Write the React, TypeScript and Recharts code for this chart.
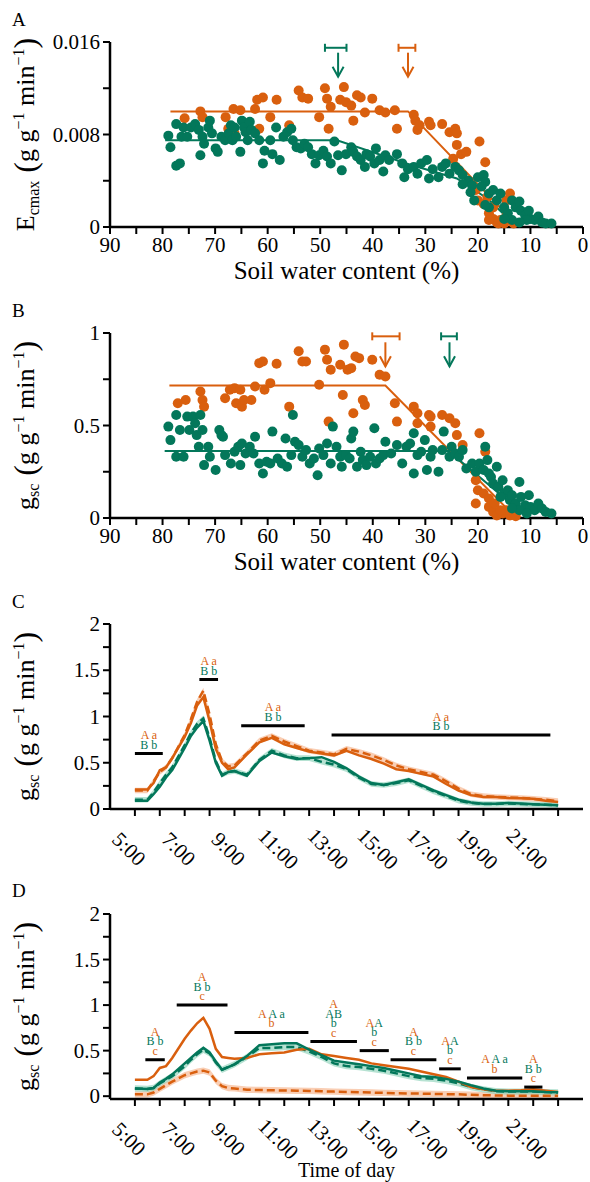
import React from "react";
import {
  Area,
  ComposedChart,
  Line,
  ReferenceDot,
  ReferenceLine,
  Scatter,
  XAxis,
  YAxis,
} from "recharts";

const ORANGE = "#d95f0e";
const GREEN = "#03775a";
const ORANGE_BAND = "#f6b48c";
const GREEN_BAND = "#8fd2ba";
const FONT = '"Liberation Serif", "Times New Roman", Tinos, "DejaVu Serif", serif';
const TXT = { fontFamily: FONT };

type Pt = [number, number];

// ---- panel A: Ecmax vs soil water content ----
const A_ORANGE: Pt[] = [
  [75.8, 0.0094], [72.8, 0.01], [72.4, 0.0095], [68.0, 0.0095], [66.5, 0.0102], [65.2, 0.0101],
  [67.5, 0.0085], [66.3, 0.0081], [62.4, 0.0102], [62.0, 0.011], [60.9, 0.0112], [61.6, 0.0085],
  [59.5, 0.0095], [58.3, 0.011], [55.9, 0.0088], [54.1, 0.0118], [53.4, 0.0112], [52.3, 0.0111],
  [50.2, 0.0095], [49.1, 0.012], [48.4, 0.0085], [48.7, 0.0111], [48.0, 0.0104], [46.2, 0.011],
  [45.5, 0.0121], [45.1, 0.0108], [44.1, 0.0105], [43.7, 0.0092], [43.0, 0.0114], [42.3, 0.0112],
  [41.5, 0.0099], [40.1, 0.0111], [38.7, 0.0101], [37.6, 0.0099], [35.8, 0.0101], [35.4, 0.0085],
  [32.2, 0.0097], [31.9, 0.0092], [31.5, 0.0084], [31.1, 0.0088], [29.3, 0.0091], [29.0, 0.0088],
  [26.8, 0.0089], [25.4, 0.0082], [24.3, 0.0085], [24.0, 0.0081], [24.0, 0.0071], [24.7, 0.0059],
  [23.2, 0.0063], [22.2, 0.0065], [19.7, 0.0074], [18.6, 0.0056], [20.4, 0.0032], [20.0, 0.0023],
  [18.9, 0.002], [17.9, 0.0012], [17.1, 0.0007], [16.4, 0.0004], [15.7, 0.0006], [14.6, 0.0009],
  [13.9, 0.0029], [14.6, 0.0023], [18.2, 0.0026], [17.1, 0.0017], [17.9, 0.0006], [16.1, 0.0003],
  [15.0, 0.0003], [13.2, 0.0003],
];

const A_GREEN: Pt[] = [
  [78.9, 0.0079], [78.5, 0.0069], [77.4, 0.0053], [76.7, 0.0055], [76.4, 0.0078], [77.4, 0.0089],
  [76.0, 0.0086], [75.3, 0.0078], [74.6, 0.0086], [73.8, 0.0089], [73.1, 0.0084], [72.8, 0.0062],
  [72.4, 0.0078], [72.1, 0.0072], [71.3, 0.0086], [71.0, 0.0092], [70.6, 0.0081], [69.9, 0.0068],
  [69.5, 0.0065], [68.8, 0.0078], [68.1, 0.0075], [67.4, 0.0081], [67.0, 0.0088], [66.7, 0.0075],
  [66.3, 0.0086], [66.0, 0.0078], [65.2, 0.0065], [64.9, 0.0092], [64.5, 0.0086], [64.2, 0.0082],
  [63.8, 0.0075], [63.4, 0.0091], [63.1, 0.0084], [62.4, 0.0081], [61.6, 0.0075], [60.9, 0.0055],
  [60.6, 0.0066], [59.5, 0.0075], [59.1, 0.0063], [58.4, 0.0086], [57.7, 0.0058], [57.0, 0.0078],
  [56.3, 0.0082], [55.5, 0.0085], [55.2, 0.0075], [54.5, 0.0069], [53.7, 0.0068], [53.0, 0.0072],
  [52.3, 0.0069], [51.6, 0.0063], [50.9, 0.0055], [50.2, 0.0062], [49.4, 0.0066], [48.7, 0.0061],
  [48.0, 0.0055], [47.3, 0.0074], [46.6, 0.0062], [45.9, 0.0049], [45.1, 0.0063], [44.1, 0.0069],
  [43.7, 0.0065], [43.0, 0.0061], [42.3, 0.0058], [41.5, 0.0052], [41.2, 0.0063], [40.5, 0.0061],
  [39.7, 0.0055], [39.4, 0.0068], [38.7, 0.0058], [38.0, 0.0048], [37.6, 0.0062], [36.9, 0.0058],
  [35.4, 0.0063], [34.4, 0.0055], [34.0, 0.0043], [33.3, 0.005], [32.2, 0.0052], [31.5, 0.0046],
  [30.8, 0.0055], [29.7, 0.0058], [29.3, 0.0042], [28.6, 0.005], [27.5, 0.0043], [26.8, 0.0052],
  [26.1, 0.0055], [25.4, 0.0046], [24.3, 0.0052], [23.6, 0.0049], [22.9, 0.0045], [21.8, 0.004],
  [21.1, 0.0036], [20.0, 0.0043], [18.9, 0.0045], [18.6, 0.0039], [19.3, 0.0035], [17.9, 0.0029],
  [17.1, 0.0032], [16.4, 0.0023], [15.7, 0.0029], [15.0, 0.0017], [14.3, 0.0012], [13.5, 0.0023],
  [12.8, 0.0017], [12.1, 0.0022], [11.8, 0.0014], [11.0, 0.001], [10.3, 0.0014], [10.0, 0.0007],
  [9.2, 0.0006], [8.5, 0.0009], [7.8, 0.0004], [7.1, 0.0003], [6.0, 0.0003], [10.7, 0.0006],
  [12.1, 0.0004], [13.5, 0.0006], [17.9, 0.0017], [21.4, 0.003], [22.9, 0.0037], [20.7, 0.0023],
  [18.6, 0.0019], [15.0, 0.0007],
];

const A_FIT_ORANGE: Pt[] = [[78.5, 0.01], [33.3, 0.01], [12.2, 0]];
const A_FIT_GREEN: Pt[] = [[79.5, 0.0075], [46.8, 0.0075], [33, 0.0054], [24, 0.0042], [18, 0.0024], [12.6, 0]];
const A_Y_TICKS = [0, 0.004, 0.008, 0.012, 0.016];
const A_Y_LABELS = ["0", "", "0.008", "", "0.016"];

// ---- panel B: gsc vs soil water content ----
const B_ORANGE: Pt[] = [
  [77.1, 0.62], [75.6, 0.638], [72.8, 0.684], [72.4, 0.638], [72.1, 0.602], [68.1, 0.647],
  [67.2, 0.693], [66.3, 0.702], [66.0, 0.62], [65.2, 0.693], [64.9, 0.602], [64.5, 0.638],
  [63.1, 0.638], [62.4, 0.711], [61.6, 0.837], [60.9, 0.846], [60.6, 0.693], [59.5, 0.729],
  [58.3, 0.834], [55.9, 0.602], [54.1, 0.901], [53.4, 0.846], [52.7, 0.846], [50.2, 0.72],
  [49.1, 0.91], [48.7, 0.855], [48.0, 0.801], [48.4, 0.521], [46.2, 0.828], [45.7, 0.665],
  [45.5, 0.937], [44.8, 0.801], [44.1, 0.81], [43.7, 0.566], [43.3, 0.873], [42.6, 0.864],
  [41.9, 0.638], [41.5, 0.611], [40.1, 0.855], [38.7, 0.774], [37.6, 0.765], [35.8, 0.62],
  [35.4, 0.521], [32.2, 0.602], [31.5, 0.566], [31.5, 0.512], [29.3, 0.557], [29.0, 0.548],
  [29.0, 0.494], [26.8, 0.557], [25.4, 0.539], [24.3, 0.512], [24.0, 0.448], [22.9, 0.394],
  [19.7, 0.458], [18.6, 0.358], [20.4, 0.204], [20.4, 0.078], [20.0, 0.15], [18.9, 0.132],
  [17.9, 0.06], [17.1, 0.033], [16.4, 0.014], [15.3, 0.024], [14.6, 0.042], [17.9, 0.105],
  [16.8, 0.078], [15.7, 0.042], [13.9, 0.014], [12.8, 0.009],
];

const B_GREEN: Pt[] = [
  [78.9, 0.494], [78.5, 0.421], [77.4, 0.331], [77.4, 0.557], [76.7, 0.476], [76.0, 0.331],
  [75.3, 0.548], [74.9, 0.476], [74.2, 0.548], [73.8, 0.512], [73.5, 0.448], [73.1, 0.385],
  [72.8, 0.557], [72.4, 0.476], [72.1, 0.286], [71.3, 0.385], [71.0, 0.331], [69.9, 0.259],
  [69.2, 0.476], [68.8, 0.448], [68.5, 0.439], [68.1, 0.34], [67.0, 0.295], [66.3, 0.358],
  [65.6, 0.385], [65.2, 0.286], [64.9, 0.403], [64.2, 0.349], [63.4, 0.385], [62.7, 0.349],
  [62.4, 0.439], [61.6, 0.295], [60.9, 0.241], [60.2, 0.304], [59.5, 0.295], [59.1, 0.467],
  [58.1, 0.322], [57.3, 0.295], [56.6, 0.43], [56.3, 0.277], [55.5, 0.34], [55.2, 0.557],
  [54.8, 0.412], [54.1, 0.394], [53.4, 0.331], [52.7, 0.367], [52.0, 0.295], [51.2, 0.322],
  [50.5, 0.231], [50.2, 0.376], [49.4, 0.34], [48.7, 0.403], [48.0, 0.295], [47.6, 0.494],
  [46.9, 0.385], [46.2, 0.331], [45.9, 0.277], [45.1, 0.34], [44.4, 0.322], [44.1, 0.43],
  [43.7, 0.467], [43.0, 0.277], [42.3, 0.358], [41.9, 0.313], [41.2, 0.286], [40.5, 0.331],
  [39.7, 0.485], [39.4, 0.295], [38.7, 0.322], [38.0, 0.34], [37.6, 0.412], [36.5, 0.349],
  [35.4, 0.394], [34.4, 0.295], [33.6, 0.385], [32.9, 0.403], [32.2, 0.458], [32.2, 0.241],
  [31.5, 0.34], [30.8, 0.358], [30.1, 0.421], [29.7, 0.259], [29.0, 0.331], [28.6, 0.367],
  [27.5, 0.25], [26.8, 0.367], [26.5, 0.467], [25.4, 0.331], [25.0, 0.385], [24.3, 0.349],
  [23.6, 0.331], [22.9, 0.367], [22.2, 0.268], [21.1, 0.295], [20.4, 0.25], [19.7, 0.295],
  [18.6, 0.385], [18.2, 0.313], [18.9, 0.259], [17.9, 0.241], [17.5, 0.222], [17.1, 0.186],
  [16.4, 0.277], [16.1, 0.168], [15.3, 0.204], [15.0, 0.132], [14.3, 0.15], [13.9, 0.096],
  [13.5, 0.123], [12.8, 0.078], [12.1, 0.195], [11.8, 0.114], [11.0, 0.069], [10.3, 0.123],
  [10.0, 0.06], [9.2, 0.042], [8.5, 0.078], [7.8, 0.051], [7.1, 0.033], [6.0, 0.024],
  [12.1, 0.042], [10.7, 0.024], [15.7, 0.114], [13.5, 0.051],
];

const B_FIT_ORANGE: Pt[] = [[78.7, 0.716], [37.6, 0.716], [12.7, 0]];
const B_FIT_GREEN: Pt[] = [[79.6, 0.362], [25.6, 0.362], [10.4, 0]];
const B_Y_TICKS = [0, 0.25, 0.5, 0.75, 1];
const B_Y_LABELS = ["0", "", "0.5", "", "1"];

// breakpoint estimates with their error bars
const A_BREAKS = [
  { color: GREEN, lo: 49.1, hi: 45.0, x: 46.6, bar: 0.0155, tip: 0.013 },
  { color: ORANGE, lo: 35.1, hi: 31.9, x: 33.3, bar: 0.0155, tip: 0.013 },
];
const B_BREAKS = [
  { color: ORANGE, lo: 40.1, hi: 34.9, x: 37.6, bar: 0.982, tip: 0.82 },
  { color: GREEN, lo: 27.0, hi: 24.0, x: 25.4, bar: 0.982, tip: 0.82 },
];

const SWC_TICKS = [0, 5, 10, 15, 20, 25, 30, 35, 40, 45, 50, 55, 60, 65, 70, 75, 80, 85, 90];

// ---- panels C and D: diurnal gsc ----
const TIME = [
  5, 5.5, 5.75, 6, 6.25, 6.5, 7, 7.25, 7.5, 7.75, 8, 8.25, 8.5, 8.75, 9, 9.5, 10, 10.5, 11, 11.5,
  12, 12.5, 13, 13.5, 14, 14.5, 15, 15.5, 16, 16.5, 17, 17.5, 18, 18.5, 19, 19.5, 20, 20.5, 21,
  21.5, 22,
];

const C_ORANGE_SOLID = [
  0.21, 0.21, 0.28, 0.42, 0.45, 0.55, 0.78, 0.93, 1.12, 1.21, 0.95, 0.65, 0.5, 0.43, 0.45, 0.59,
  0.72, 0.77, 0.7, 0.66, 0.62, 0.6, 0.58, 0.63, 0.58, 0.54, 0.49, 0.43, 0.41, 0.38, 0.35, 0.27,
  0.2, 0.15, 0.13, 0.13, 0.12, 0.115, 0.11, 0.09, 0.075,
];
const C_ORANGE_DASH = [
  0.2, 0.2, 0.3, 0.4, 0.45, 0.55, 0.8, 0.97, 1.16, 1.28, 1.02, 0.7, 0.52, 0.46, 0.47, 0.6, 0.74,
  0.79, 0.73, 0.68, 0.63, 0.61, 0.59, 0.65, 0.62, 0.58, 0.53, 0.47, 0.43, 0.4, 0.37, 0.3, 0.22,
  0.16, 0.14, 0.13, 0.125, 0.12, 0.11, 0.1, 0.085,
];
const C_GREEN_SOLID = [
  0.09, 0.09, 0.16, 0.24, 0.34, 0.42, 0.66, 0.79, 0.88, 0.95, 0.74, 0.5, 0.36, 0.4, 0.41, 0.36,
  0.52, 0.61, 0.57, 0.54, 0.55, 0.56, 0.51, 0.44, 0.35, 0.28, 0.26, 0.29, 0.32, 0.26, 0.2, 0.15,
  0.1, 0.07, 0.058, 0.058, 0.065, 0.06, 0.052, 0.045, 0.04,
];
const C_GREEN_DASH = [
  0.1, 0.1, 0.18, 0.28, 0.37, 0.45, 0.69, 0.82, 0.92, 0.98, 0.77, 0.52, 0.37, 0.4, 0.41, 0.37,
  0.53, 0.63, 0.58, 0.55, 0.55, 0.51, 0.48, 0.43, 0.34, 0.27, 0.26, 0.28, 0.31, 0.25, 0.19, 0.14,
  0.09, 0.065, 0.055, 0.055, 0.06, 0.055, 0.05, 0.045, 0.04,
];

const D_ORANGE_SOLID = [
  0.18, 0.18, 0.22, 0.31, 0.33, 0.42, 0.63, 0.72, 0.8, 0.86, 0.74, 0.52, 0.43, 0.42, 0.41, 0.42,
  0.46, 0.47, 0.48, 0.51, 0.52, 0.46, 0.44, 0.42, 0.4, 0.36, 0.34, 0.32, 0.3, 0.27, 0.24, 0.21,
  0.16, 0.1, 0.075, 0.06, 0.06, 0.065, 0.075, 0.06, 0.045,
];
const D_ORANGE_DASH = [
  0.02, 0.02, 0.04, 0.08, 0.12, 0.16, 0.23, 0.25, 0.27, 0.28, 0.26, 0.17, 0.11, 0.09, 0.085, 0.07,
  0.068, 0.065, 0.062, 0.06, 0.058, 0.054, 0.05, 0.046, 0.043, 0.04, 0.036, 0.033, 0.03, 0.028,
  0.025, 0.022, 0.02, 0.015, 0.01, 0.008, 0.006, 0.005, 0.005, 0.004, 0.004,
];
const D_GREEN_SOLID = [
  0.085, 0.08, 0.09, 0.15, 0.19, 0.24, 0.36, 0.42, 0.48, 0.53, 0.48, 0.38, 0.29, 0.32, 0.35, 0.44,
  0.56, 0.57, 0.58, 0.58, 0.51, 0.45, 0.39, 0.37, 0.35, 0.33, 0.31, 0.28, 0.25, 0.22, 0.21, 0.19,
  0.16, 0.12, 0.085, 0.06, 0.055, 0.055, 0.055, 0.045, 0.043,
];
const D_GREEN_DASH = [
  0.085, 0.08, 0.09, 0.14, 0.18, 0.22, 0.33, 0.4, 0.46, 0.51, 0.47, 0.37, 0.29, 0.32, 0.35, 0.43,
  0.53, 0.53, 0.54, 0.54, 0.49, 0.43, 0.36, 0.33, 0.32, 0.3, 0.28, 0.25, 0.22, 0.2, 0.19, 0.17,
  0.14, 0.1, 0.075, 0.055, 0.05, 0.05, 0.05, 0.045, 0.04,
];

const C_BAND = 0.03;
const D_BAND = 0.035;
const TIME_TICKS = [5, 6, 7, 8, 9, 10, 11, 12, 13, 14, 15, 16, 17, 18, 19, 20, 21, 22];
const G_TICKS = [0, 0.25, 0.5, 0.75, 1, 1.25, 1.5, 1.75, 2];
const G_LABELS = ["0", "", "0.5", "", "1", "", "1.5", "", "2"];

// significance letters: rows top to bottom, each row is [text, colour] pieces
type Piece = [string, "o" | "g"];
type Mark = { from: number; to: number; y: number; rows: Piece[][] };

const C_MARKS: Mark[] = [
  { from: 5.0, to: 6.12, y: 0.6, rows: [[["A a", "o"]], [["B b", "g"]]] },
  { from: 7.59, to: 8.34, y: 1.4, rows: [[["A a", "o"]], [["B b", "g"]]] },
  { from: 9.27, to: 11.82, y: 0.9, rows: [[["A a", "o"]], [["B b", "g"]]] },
  { from: 12.9, to: 21.69, y: 0.8, rows: [[["A a", "o"]], [["B b", "g"]]] },
];

const D_MARKS: Mark[] = [
  { from: 5.42, to: 6.2, y: 0.4, rows: [[["A", "o"]], [["B b", "g"]], [["c", "o"]]] },
  { from: 6.68, to: 8.72, y: 1.0, rows: [[["A", "o"]], [["B b", "g"]], [["c", "o"]]] },
  { from: 9.0, to: 11.97, y: 0.7, rows: [[["A ", "o"], ["A a", "g"]], [["b", "o"]]] },
  { from: 12.05, to: 13.92, y: 0.6, rows: [[["A", "o"]], [["AB", "g"]], [["b", "g"]], [["c", "o"]]] },
  { from: 14.03, to: 15.2, y: 0.5, rows: [[["A", "o"], ["A", "g"]], [["b", "g"]], [["c", "o"]]] },
  { from: 15.27, to: 17.11, y: 0.4, rows: [[["A", "o"]], [["B b", "g"]], [["c", "o"]]] },
  { from: 17.22, to: 18.09, y: 0.3, rows: [[["A", "o"], ["A", "g"]], [["b", "g"]], [["c", "o"]]] },
  { from: 18.34, to: 20.56, y: 0.2, rows: [[["A ", "o"], ["A a", "g"]], [["b", "o"]]] },
  { from: 20.64, to: 21.37, y: 0.1, rows: [[["A", "o"]], [["B b", "g"]], [["c", "o"]]] },
];

const AXIS_LINE = { stroke: "#000", strokeWidth: 2.5 };
const TICK_LINE = { stroke: "#000", strokeWidth: 2 };

const toXY = (pts: Pt[]) => pts.map(([x, y]) => ({ x, y }));

function yTitle(main: string, sub: string, letter: string, letterY: number) {
  return (props: any) => {
    const vb = props.viewBox;
    const cy = vb.y + vb.height / 2;
    const bx = 34;
    return (
      <g>
        <text x={12} y={letterY} fontSize={19} style={TXT} fill="#000">
          {letter}
        </text>
        <text
          transform={`rotate(-90 ${bx} ${cy})`}
          x={bx}
          y={cy}
          textAnchor="middle"
          style={TXT}
          fontSize={26}
          fill="#000"
        >
          <tspan>{main}</tspan>
          <tspan fontSize={16} dy={5}>{sub}</tspan>
          <tspan fontSize={32} dy={-3}> (</tspan>
          <tspan dy={-2}>g g</tspan>
          <tspan fontSize={16} dy={-10}>−1</tspan>
          <tspan dy={10}> min</tspan>
          <tspan fontSize={16} dy={-10}>−1</tspan>
          <tspan fontSize={32} dy={12}>)</tspan>
        </text>
      </g>
    );
  };
}

function xTitle(text: string, offset: number, size: number) {
  return (props: any) => {
    const vb = props.viewBox;
    return (
      <text
        x={vb.x + vb.width / 2}
        y={vb.y + offset}
        textAnchor="middle"
        style={TXT}
        fontSize={size}
        fill="#000"
      >
        {text}
      </text>
    );
  };
}

const yTick = (labels: string[]) => (p: any) => {
  const label = labels[p.index];
  if (!label) return <g />;
  return (
    <text x={p.x - 1} y={p.y} textAnchor="end" dominantBaseline="central" fontSize={21} style={TXT} fill="#000">
      {label}
    </text>
  );
};

const SwcTick = (p: any) => {
  const v = p.payload.value;
  if (v % 10 !== 0) return <g />;
  return (
    <text x={p.x} y={p.y + 9} textAnchor="middle" dominantBaseline="central" fontSize={21} style={TXT} fill="#000">
      {v}
    </text>
  );
};

const TimeTick = (p: any) => {
  const v = p.payload.value;
  if (v % 2 === 0) return <g />;
  const cx = p.x - 6;
  const cy = p.y + 31;
  return (
    <text
      transform={`rotate(45 ${cx} ${cy})`}
      x={cx}
      y={cy}
      textAnchor="middle"
      dominantBaseline="central"
      fontSize={21}
      style={TXT}
      fill="#000"
    >
      {`${v}:00`}
    </text>
  );
};

const dot = (color: string) => (p: any) => <circle cx={p.cx} cy={p.cy} r={5} fill={color} />;

const cap = (color: string) => (p: any) => (
  <line x1={p.cx} x2={p.cx} y1={p.cy - 4} y2={p.cy + 4} stroke={color} strokeWidth={2} />
);

const arrow = (color: string) => (p: any) => (
  <g stroke={color} strokeWidth={2} fill="none">
    <line x1={p.cx} x2={p.cx} y1={p.cy - 24} y2={p.cy} />
    <polyline points={`${p.cx - 5.5},${p.cy - 10} ${p.cx},${p.cy} ${p.cx + 5.5},${p.cy - 10}`} />
  </g>
);

const letters = (rows: Piece[][]) => (p: any) => (
  <g>
    {rows.map((row, i) => (
      <text
        key={i}
        x={p.cx}
        y={p.cy - 5 - (rows.length - 1 - i) * 9.5}
        textAnchor="middle"
        fontSize={12}
        style={TXT}
      >
        {row.map(([t, c], j) => (
          <tspan key={j} fill={c === "o" ? ORANGE : GREEN}>
            {t}
          </tspan>
        ))}
      </text>
    ))}
  </g>
);

type ScatterProps = {
  top: number;
  height: number;
  plotTop: number;
  axisHeight: number;
  letter: string;
  letterY: number;
  main: string;
  sub: string;
  yMax: number;
  yTicks: number[];
  yLabels: string[];
  orange: Pt[];
  green: Pt[];
  fitOrange: Pt[];
  fitGreen: Pt[];
  breaks: typeof A_BREAKS;
};

function SwcPanel(props: ScatterProps) {
  return (
    <div style={{ position: "absolute", left: 0, top: props.top }}>
      <ComposedChart
        width={590}
        height={props.height}
        margin={{ top: props.plotTop, right: 7, bottom: 0, left: 0 }}
      >
        <XAxis
          type="number"
          dataKey="x"
          domain={[0, 90]}
          reversed
          ticks={SWC_TICKS}
          interval={0}
          height={props.axisHeight}
          axisLine={AXIS_LINE}
          tickLine={TICK_LINE}
          tickSize={7}
          tick={SwcTick}
          label={xTitle("Soil water content (%)", 52, 25)}
        />
        <YAxis
          type="number"
          dataKey="y"
          domain={[0, props.yMax]}
          ticks={props.yTicks}
          interval={0}
          width={110}
          axisLine={AXIS_LINE}
          tickLine={TICK_LINE}
          tickSize={7}
          tick={yTick(props.yLabels)}
          label={yTitle(props.main, props.sub, props.letter, props.letterY)}
        />
        <Scatter data={toXY(props.orange)} shape={dot(ORANGE)} isAnimationActive={false} />
        <Scatter data={toXY(props.green)} shape={dot(GREEN)} isAnimationActive={false} />
        <Line
          data={toXY(props.fitOrange)}
          dataKey="y"
          stroke={ORANGE}
          strokeWidth={2}
          dot={false}
          isAnimationActive={false}
        />
        <Line
          data={toXY(props.fitGreen)}
          dataKey="y"
          stroke={GREEN}
          strokeWidth={2}
          dot={false}
          isAnimationActive={false}
        />
        {props.breaks.map((b, i) => (
          <ReferenceLine
            key={`bar${i}`}
            segment={[{ x: b.lo, y: b.bar }, { x: b.hi, y: b.bar }]}
            stroke={b.color}
            strokeWidth={2}
          />
        ))}
        {props.breaks.map((b, i) => (
          <ReferenceDot key={`lo${i}`} x={b.lo} y={b.bar} r={1} shape={cap(b.color)} />
        ))}
        {props.breaks.map((b, i) => (
          <ReferenceDot key={`hi${i}`} x={b.hi} y={b.bar} r={1} shape={cap(b.color)} />
        ))}
        {props.breaks.map((b, i) => (
          <ReferenceDot key={`ar${i}`} x={b.x} y={b.tip} r={1} shape={arrow(b.color)} />
        ))}
      </ComposedChart>
    </div>
  );
}

type TimeProps = {
  top: number;
  height: number;
  plotTop: number;
  axisHeight: number;
  letter: string;
  letterY: number;
  orangeSolid: number[];
  orangeDash: number[];
  greenSolid: number[];
  greenDash: number[];
  band: number;
  marks: Mark[];
  title?: string;
};

function TimePanel(props: TimeProps) {
  const rows = TIME.map((t, i) => ({
    t,
    os: props.orangeSolid[i],
    od: props.orangeDash[i],
    gs: props.greenSolid[i],
    gd: props.greenDash[i],
  }));
  const band = props.band;
  return (
    <div style={{ position: "absolute", left: 0, top: props.top }}>
      <ComposedChart
        width={590}
        height={props.height}
        data={rows}
        margin={{ top: props.plotTop, right: 7, bottom: 0, left: 0 }}
      >
        <XAxis
          type="number"
          dataKey="t"
          domain={[4, 23]}
          ticks={TIME_TICKS}
          interval={0}
          height={props.axisHeight}
          axisLine={AXIS_LINE}
          tickLine={TICK_LINE}
          tickSize={7}
          tick={TimeTick}
          label={props.title ? xTitle(props.title, 78, 20) : undefined}
        />
        <YAxis
          type="number"
          domain={[0, 2]}
          ticks={G_TICKS}
          interval={0}
          width={110}
          axisLine={AXIS_LINE}
          tickLine={TICK_LINE}
          tickSize={7}
          tick={yTick(G_LABELS)}
          label={yTitle("g", "sc", props.letter, props.letterY)}
        />
        <Area
          type="linear"
          dataKey={(r: any) => [r.od - band, r.od + band]}
          stroke="none"
          fill={ORANGE_BAND}
          fillOpacity={0.65}
          isAnimationActive={false}
        />
        <Area
          type="linear"
          dataKey={(r: any) => [r.gd - band, r.gd + band]}
          stroke="none"
          fill={GREEN_BAND}
          fillOpacity={0.65}
          isAnimationActive={false}
        />
        <Line type="linear" dataKey="od" stroke={ORANGE} strokeWidth={2.5} strokeDasharray="8 4" dot={false} isAnimationActive={false} />
        <Line type="linear" dataKey="gd" stroke={GREEN} strokeWidth={2.5} strokeDasharray="8 4" dot={false} isAnimationActive={false} />
        <Line type="linear" dataKey="os" stroke={ORANGE} strokeWidth={2.5} dot={false} isAnimationActive={false} />
        <Line type="linear" dataKey="gs" stroke={GREEN} strokeWidth={2.5} dot={false} isAnimationActive={false} />
        {props.marks.map((m, i) => (
          <ReferenceLine
            key={`m${i}`}
            segment={[{ x: m.from, y: m.y }, { x: m.to, y: m.y }]}
            stroke="#000"
            strokeWidth={3}
          />
        ))}
        {props.marks.map((m, i) => (
          <ReferenceDot key={`l${i}`} x={(m.from + m.to) / 2} y={m.y} r={1} shape={letters(m.rows)} />
        ))}
      </ComposedChart>
    </div>
  );
}

export default function App() {
  return (
    <div style={{ position: "absolute", left: 0, top: 0, width: 590, height: 1182, background: "#fff", fontFamily: FONT }}>
      <SwcPanel
        top={0}
        height={290}
        plotTop={42}
        axisHeight={63}
        letter="A"
        letterY={26}
        main="E"
        sub="cmax"
        yMax={0.016}
        yTicks={A_Y_TICKS}
        yLabels={A_Y_LABELS}
        orange={A_ORANGE}
        green={A_GREEN}
        fitOrange={A_FIT_ORANGE}
        fitGreen={A_FIT_GREEN}
        breaks={A_BREAKS}
      />
      <SwcPanel
        top={290}
        height={290}
        plotTop={43}
        axisHeight={62}
        letter="B"
        letterY={27}
        main="g"
        sub="sc"
        yMax={1}
        yTicks={B_Y_TICKS}
        yLabels={B_Y_LABELS}
        orange={B_ORANGE}
        green={B_GREEN}
        fitOrange={B_FIT_ORANGE}
        fitGreen={B_FIT_GREEN}
        breaks={B_BREAKS}
      />
      <TimePanel
        top={580}
        height={300}
        plotTop={44}
        axisHeight={71}
        letter="C"
        letterY={28}
        orangeSolid={C_ORANGE_SOLID}
        orangeDash={C_ORANGE_DASH}
        greenSolid={C_GREEN_SOLID}
        greenDash={C_GREEN_DASH}
        band={C_BAND}
        marks={C_MARKS}
      />
      <TimePanel
        top={880}
        height={302}
        plotTop={34}
        axisHeight={83}
        letter="D"
        letterY={17}
        orangeSolid={D_ORANGE_SOLID}
        orangeDash={D_ORANGE_DASH}
        greenSolid={D_GREEN_SOLID}
        greenDash={D_GREEN_DASH}
        band={D_BAND}
        marks={D_MARKS}
        title="Time of day"
      />
    </div>
  );
}
